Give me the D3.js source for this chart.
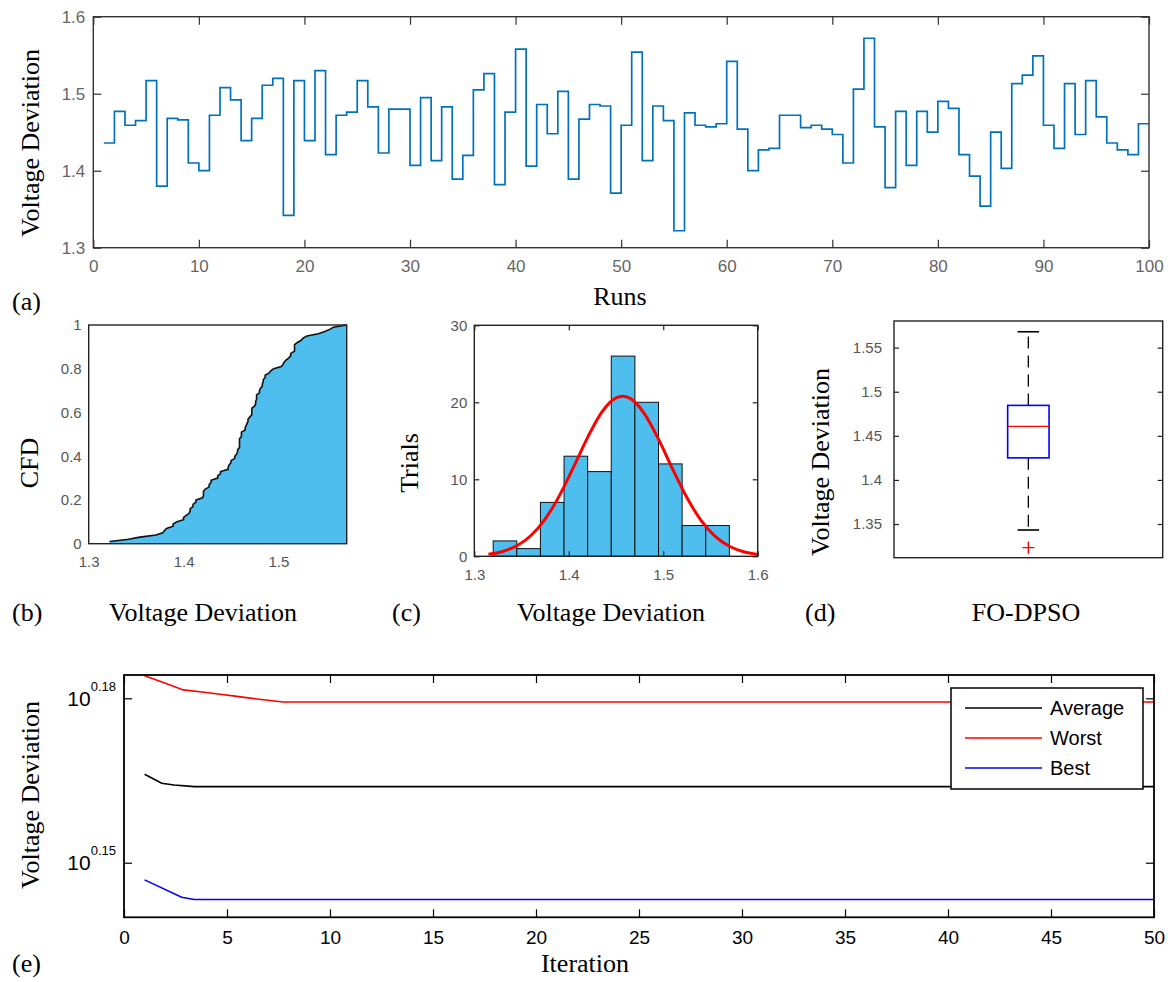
<!DOCTYPE html>
<html><head><meta charset="utf-8">
<script src="https://cdn.jsdelivr.net/npm/d3@7"></script>
<style>body{margin:0;background:#fff} svg{display:block}</style>
</head><body>
<svg id="c" width="1168" height="982"></svg>
<script>
// ---------------- DATA ----------------
const runs = d3.range(1, 101);
const voltageDeviation = [
 1.436,1.477,1.459,1.465,1.517,1.380,1.468,1.466,1.410,1.400,
 1.472,1.508,1.492,1.439,1.468,1.511,1.520,1.342,1.517,1.439,
 1.530,1.421,1.472,1.476,1.517,1.483,1.423,1.480,1.480,1.407,
 1.495,1.413,1.483,1.389,1.420,1.505,1.526,1.382,1.476,1.558,
 1.406,1.486,1.448,1.503,1.389,1.467,1.486,1.484,1.371,1.459,
 1.554,1.413,1.484,1.465,1.322,1.475,1.459,1.457,1.461,1.542,
 1.454,1.400,1.427,1.429,1.472,1.472,1.456,1.459,1.454,1.447,
 1.410,1.506,1.572,1.457,1.378,1.477,1.407,1.477,1.450,1.490,
 1.481,1.421,1.393,1.354,1.450,1.403,1.513,1.524,1.549,1.459,
 1.429,1.513,1.447,1.517,1.470,1.436,1.427,1.421,1.461,1.461];
const runTicks = [0,10,20,30,40,50,60,70,80,90,100];
const vdTicks = [1.3,1.4,1.5,1.6];

const cfdXTicks = [1.3,1.4,1.5];
const cfdYTicks = [0,0.2,0.4,0.6,0.8,1];

const histEdges = [1.320,1.345,1.370,1.395,1.420,1.445,1.470,1.495,1.520,1.545,1.570];
const histCounts = [2,1,7,13,11,26,20,12,4,4];
const fitX = [1.315,1.33,1.345,1.36,1.375,1.39,1.405,1.42,1.435,1.45,1.457,1.465,1.48,1.495,1.51,1.525,1.54,1.555,1.57,1.585,1.60];
const fitY = [0.26,0.63,1.37,2.70,4.84,7.85,11.57,15.45,18.73,20.58,20.8,20.51,18.54,15.21,11.31,7.63,4.67,2.59,1.30,0.59,0.25];
const histXTicks = [1.3,1.4,1.5,1.6];
const histYTicks = [0,10,20,30];

const boxQuartiles = [1.425, 1.4606, 1.4845];   // q1, median, q3
const boxWhiskers = [1.3432, 1.568];            // lower, upper
const boxOutliers = [1.3232];
const boxTicks = [1.35,1.4,1.45,1.5,1.55];
const boxLabel = "FO-DPSO";

const iterTicks = [0,5,10,15,20,25,30,35,40,45,50];
const logTickExps = [0.15, 0.18];
const averageX = [1,1.83,2.43,3.41,50];
const averageY = [1.4660,1.4605,1.4594,1.4584,1.4584];
const worstX = [1,1.91,2.88,3.89,4.67,5.48,6.45,7.73,50];
const worstY = [1.5279,1.5236,1.5189,1.5174,1.5161,1.5148,1.5131,1.5112,1.5112];
const bestX = [1,2.8,3.41,50];
const bestY = [1.4024,1.3922,1.3909,1.3909];
const legendNames = ["Average","Worst","Best"];

// ---------------- HELPERS ----------------
const svg = d3.select("#c");
const serif = "'Liberation Serif','Times New Roman',serif";
const sans = "'Liberation Sans',Arial,sans-serif";

function drawAxes(g, x, y, o) {
  const L = o.tickLen;
  const [xa, xb] = x.range(), [ya, yb] = y.range();
  const sides = [
    [d3.axisBottom(x).tickValues(o.xTicks || []).tickSize(-L).tickPadding(o.xPad || 6).tickFormat(o.xFmt || (d => d)), `translate(0,${ya})`],
    [d3.axisTop(x).tickValues(o.top === false ? [] : (o.xTicks || [])).tickSize(-L).tickFormat(""), `translate(0,${yb})`],
    [d3.axisLeft(y).tickValues(o.yTicks || []).tickSize(-L).tickPadding(o.yPad || 6).tickFormat(o.yFmt || (d => d)), `translate(${xa},0)`],
    [d3.axisRight(y).tickValues(o.yTicks || []).tickSize(-L).tickFormat(""), `translate(${xb},0)`]
  ];
  sides.forEach(([ax, tr]) => {
    const a = g.append("g").attr("transform", tr).call(ax);
    a.select(".domain").remove();
    a.selectAll("line").attr("stroke", o.axisColor).attr("stroke-width", 1.2);
    a.selectAll("text").attr("fill", o.labelColor)
      .style("font-family", sans).style("font-size", o.fontSize + "px");
  });
  g.append("rect").attr("x", xa).attr("y", yb).attr("width", xb - xa).attr("height", ya - yb)
    .attr("fill", "none").attr("stroke", o.axisColor).attr("stroke-width", o.boxWidth || 1.4);
}
function label(txt, x, y, opts = {}) {
  const t = svg.append("text").text(txt).attr("font-family", serif)
    .attr("font-size", opts.size || 26).attr("fill", "#000")
    .attr("text-anchor", opts.anchor || "middle");
  if (opts.rotate) t.attr("transform", `translate(${x},${y}) rotate(-90)`);
  else t.attr("x", x).attr("y", y);
  return t;
}

// ---------------- (a) Runs ----------------
{
  const x = d3.scaleLinear([0, 100], [93.3, 1149]);
  const y = d3.scaleLinear([1.3, 1.6], [247.7, 16.7]);
  const g = svg.append("g");
  g.append("path").datum(voltageDeviation)
    .attr("d", d3.line().x((d, i) => x(runs[i])).y(d => y(d)).curve(d3.curveStepAfter))
    .attr("fill", "none").attr("stroke", "#0072BD").attr("stroke-width", 1.7);
  drawAxes(g, x, y, {xTicks: runTicks, yTicks: vdTicks, tickLen: 8, xPad: 12, yPad: 8,
    axisColor: "#333", labelColor: "#666", fontSize: 17, yFmt: d3.format(".1f")});
  label("Voltage Deviation", 39, 143, {rotate: true});
  label("Runs", 620, 305);
  label("(a)", 12, 310, {anchor: "start"});
}

// ---------------- (b) CFD ----------------
{
  const x = d3.scaleLinear([1.3, 1.572], [88.7, 346.7]);
  const y = d3.scaleLinear([0, 1], [543.7, 325]);
  const g = svg.append("g");
  const sorted = voltageDeviation.slice().sort(d3.ascending);
  const pts = sorted.map((v, i) => [v, (i + 1) / sorted.length]);
  g.append("path").datum(pts)
    .attr("d", d3.area().x(d => x(d[0])).y0(y(0)).y1(d => y(d[1])))
    .attr("fill", "#4DBEEE");
  g.append("path").datum(pts)
    .attr("d", d3.line().x(d => x(d[0])).y(d => y(d[1])))
    .attr("fill", "none").attr("stroke", "#111").attr("stroke-width", 1.6);
  drawAxes(g, x, y, {xTicks: cfdXTicks, yTicks: cfdYTicks, tickLen: 0, xPad: 13, yPad: 7,
    axisColor: "#222", labelColor: "#555", fontSize: 15});
  label("CFD", 38, 463, {rotate: true});
  label("Voltage Deviation", 203, 621);
  label("(b)", 12, 621, {anchor: "start"});
}

// ---------------- (c) Histogram ----------------
{
  const x = d3.scaleLinear([1.3, 1.6], [474.3, 757.7]);
  const y = d3.scaleLinear([0, 30], [556.3, 325.3]);
  const g = svg.append("g");
  g.selectAll("rect.bar").data(histCounts).join("rect").attr("class", "bar")
    .attr("x", (d, i) => x(histEdges[i])).attr("width", (d, i) => x(histEdges[i + 1]) - x(histEdges[i]))
    .attr("y", d => y(d)).attr("height", d => y(0) - y(d))
    .attr("fill", "#4DBEEE").attr("stroke", "#111").attr("stroke-width", 1);
  g.append("path").datum(fitX.map((v, i) => [v, fitY[i]]))
    .attr("d", d3.line().x(d => x(d[0])).y(d => y(d[1])).curve(d3.curveMonotoneX))
    .attr("fill", "none").attr("stroke", "#FF0000").attr("stroke-width", 3);
  drawAxes(g, x, y, {xTicks: histXTicks, yTicks: histYTicks, tickLen: 5, xPad: 13, yPad: 7,
    axisColor: "#222", labelColor: "#555", fontSize: 15});
  label("Trials", 418, 463, {rotate: true});
  label("Voltage Deviation", 611, 621);
  label("(c)", 392, 621, {anchor: "start"});
}

// ---------------- (d) Box plot ----------------
{
  const x = d3.scaleLinear([0.5, 1.5], [894, 1162.7]);
  const y = d3.scaleLinear([1.3118, 1.5802], [557.7, 321]);
  const g = svg.append("g");
  const [q1, med, q3] = boxQuartiles;
  const [lo, hi] = boxWhiskers;
  const c = 1;
  [[q3, hi], [q1, lo]].forEach(([a, b]) => {
    g.append("line").attr("x1", x(c)).attr("x2", x(c)).attr("y1", y(a)).attr("y2", y(b))
      .attr("stroke", "#000").attr("stroke-width", 1.3).attr("stroke-dasharray", "12,7");
    g.append("line").attr("x1", x(c - 0.04)).attr("x2", x(c + 0.04)).attr("y1", y(b)).attr("y2", y(b))
      .attr("stroke", "#000").attr("stroke-width", 1.6);
  });
  g.append("rect").attr("x", x(c - 0.077)).attr("width", x(c + 0.077) - x(c - 0.077))
    .attr("y", y(q3)).attr("height", y(q1) - y(q3))
    .attr("fill", "#fff").attr("stroke", "#0000FF").attr("stroke-width", 1.6);
  g.append("line").attr("x1", x(c - 0.077)).attr("x2", x(c + 0.077)).attr("y1", y(med)).attr("y2", y(med))
    .attr("stroke", "#FF0000").attr("stroke-width", 1.3);
  boxOutliers.forEach(v => {
    g.append("path").attr("d", `M${x(c) - 6},${y(v)}h12M${x(c)},${y(v) - 6}v12`)
      .attr("stroke", "#FF0000").attr("stroke-width", 1.4);
  });
  drawAxes(g, x, y, {xTicks: [], yTicks: boxTicks, tickLen: 5, yPad: 12,
    axisColor: "#222", labelColor: "#555", fontSize: 15});
  label("Voltage Deviation", 829, 462, {rotate: true});
  label(boxLabel, 1026, 621);
  label("(d)", 805, 621, {anchor: "start"});
}

// ---------------- (e) Convergence ----------------
{
  const x = d3.scaleLinear([0, 50], [124, 1154]);
  const y = d3.scaleLog([Math.pow(10, 0.14004), Math.pow(10, 0.18425)], [917.3, 675]);
  const g = svg.append("g");
  const series = [
    {name: legendNames[0], xs: averageX, ys: averageY, color: "#000000"},
    {name: legendNames[1], xs: worstX, ys: worstY, color: "#FF0000"},
    {name: legendNames[2], xs: bestX, ys: bestY, color: "#0000FF"}
  ];
  series.forEach(s => {
    g.append("path").datum(s.xs.map((v, i) => [v, s.ys[i]]))
      .attr("d", d3.line().x(d => x(d[0])).y(d => y(d[1])))
      .attr("fill", "none").attr("stroke", s.color).attr("stroke-width", 1.6);
  });
  const logTicks = logTickExps.map(e => Math.pow(10, e));
  drawAxes(g, x, y, {xTicks: iterTicks, yTicks: logTicks, tickLen: 8, xPad: 13, yPad: 8,
    axisColor: "#000", labelColor: "#000", fontSize: 19, boxWidth: 1.8, yFmt: () => ""});
  logTickExps.forEach((e, i) => {
    const t = g.append("text").attr("x", 116).attr("y", y(logTicks[i]) + 7.7)
      .attr("text-anchor", "end").attr("font-family", sans).attr("fill", "#000");
    t.append("tspan").text("10").attr("font-size", 21);
    t.append("tspan").text(e.toFixed(2)).attr("font-size", 13).attr("dy", -15);
  });
  const lg = g.append("g");
  lg.append("rect").attr("x", 951).attr("y", 688).attr("width", 192).attr("height", 101)
    .attr("fill", "#fff").attr("stroke", "#000").attr("stroke-width", 1.5);
  series.forEach((s, i) => {
    const yy = 708 + i * 30;
    lg.append("line").attr("x1", 965).attr("x2", 1042).attr("y1", yy).attr("y2", yy)
      .attr("stroke", s.color).attr("stroke-width", 1.5);
    lg.append("text").attr("x", 1050).attr("y", yy + 7).text(s.name)
      .attr("font-family", sans).attr("font-size", 20).attr("fill", "#000");
  });
  label("Voltage Deviation", 39, 795, {rotate: true});
  label("Iteration", 585, 972);
  label("(e)", 12, 972, {anchor: "start"});
}
</script>
</body></html>
